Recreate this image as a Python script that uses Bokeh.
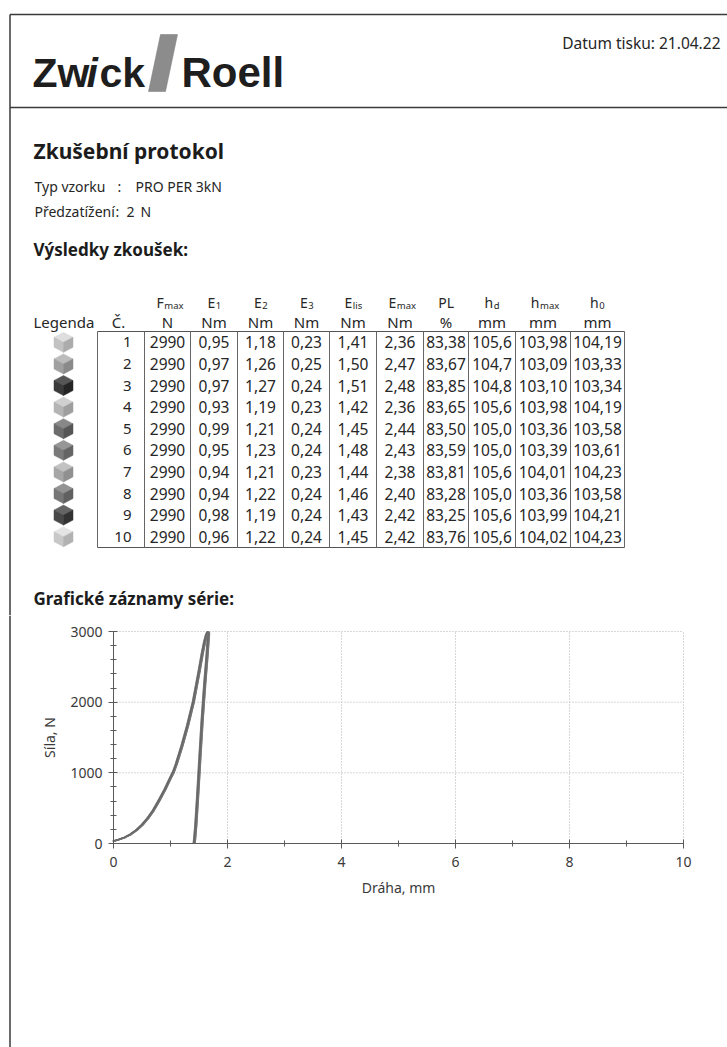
from bokeh.plotting import figure
from bokeh.layouts import column
from bokeh.models import Range1d, FixedTicker
from bokeh.core.properties import value
from bokeh.embed import file_html
from bokeh.resources import INLINE

# ---------------- data ----------------
specimen = [1, 2, 3, 4, 5, 6, 7, 8, 9, 10]
fmax = [2990, 2990, 2990, 2990, 2990, 2990, 2990, 2990, 2990, 2990]
e1 = [0.95, 0.97, 0.97, 0.93, 0.99, 0.95, 0.94, 0.94, 0.98, 0.96]
e2 = [1.18, 1.26, 1.27, 1.19, 1.21, 1.23, 1.21, 1.22, 1.19, 1.22]
e3 = [0.23, 0.25, 0.24, 0.23, 0.24, 0.24, 0.23, 0.24, 0.24, 0.24]
elis = [1.41, 1.50, 1.51, 1.42, 1.45, 1.48, 1.44, 1.46, 1.43, 1.45]
emax = [2.36, 2.47, 2.48, 2.36, 2.44, 2.43, 2.38, 2.40, 2.42, 2.42]
pl = [83.38, 83.67, 83.85, 83.65, 83.50, 83.59, 83.81, 83.28, 83.25, 83.76]
hd = [105.6, 104.7, 104.8, 105.6, 105.0, 105.0, 105.6, 105.0, 105.6, 105.6]
hmax = [103.98, 103.09, 103.10, 103.98, 103.36, 103.39, 104.01, 103.36, 103.99, 104.02]
h0 = [104.19, 103.33, 103.34, 104.19, 103.58, 103.61, 104.23, 103.58, 104.21, 104.23]

col_main = ["F", "E", "E", "E", "E", "E", "PL", "h", "h", "h"]
col_sub = ["max", "1", "2", "3", "lis", "max", "", "d", "max", "0"]
col_unit = ["N", "Nm", "Nm", "Nm", "Nm", "Nm", "%", "mm", "mm", "mm"]
col_decimals = [0, 2, 2, 2, 2, 2, 2, 1, 2, 2]

legend_gray = ["#c2c2c2", "#a0a0a0", "#3a3a3a", "#b4b4b4", "#6c6c6c",
               "#7a7a7a", "#a6a6a6", "#767676", "#484848", "#c8c8c8"]

# representative force-displacement path (mm, N)
load_disp = [0.00, 0.10, 0.20, 0.30, 0.40, 0.50, 0.60, 0.70, 0.80, 0.90, 1.00, 1.05,
             1.10, 1.20, 1.30, 1.40, 1.50, 1.56, 1.60, 1.63, 1.655]
load_force = [35, 58, 88, 130, 188, 262, 355, 470, 610, 760, 930, 1010,
              1120, 1380, 1670, 2000, 2430, 2700, 2860, 2950, 2995]
unload_disp = [1.655, 1.668, 1.665, 1.655, 1.64, 1.62, 1.60, 1.578, 1.556, 1.537, 1.518,
               1.50, 1.482, 1.463, 1.443, 1.425, 1.415]
unload_force = [2995, 2980, 2930, 2820, 2650, 2450, 2250, 2000, 1750, 1500, 1250,
                1000, 750, 500, 250, 80, 0]
# per-specimen spread of the band (mm)
spread = [0.000, -0.018, -0.009, 0.012, 0.018, -0.014, 0.004, 0.015, -0.004, 0.008]

x_ticks = [0, 2, 4, 6, 8, 10]
x_minor = [1, 3, 5, 7, 9]
y_ticks = [0, 1000, 2000, 3000]
y_minor = [200, 400, 600, 800, 1200, 1400, 1600, 1800, 2200, 2400, 2600, 2800]

FONT = "Noto Sans"
TXT = "#262626"
BORDER = "#3a3a3a"

# ---------------- header + table ----------------
W = 727
HA = 615
OX, OY = 0, 0   # page offset of this figure
pa = figure(width=W, height=HA, x_range=Range1d(0, W), y_range=Range1d(HA, 0),
            output_backend="svg", toolbar_location=None, min_border=0)
pa.axis.visible = False
pa.grid.visible = False
pa.outline_line_color = None


def X(px):
    return px - OX


def Y(py):
    return py - OY


pa.line([X(9.5), X(9.5)], [Y(14), HA], line_color=BORDER, line_width=1.5)
pa.line([X(9.5), W], [Y(14), Y(14)], line_color=BORDER, line_width=1.5)
pa.line([X(9.5), W], [Y(107), Y(107)], line_color=BORDER, line_width=1.5)

# logo
LOGO_Y = 72
pa.text(x=[X(32)], y=[Y(LOGO_Y)], text=["Zw"], text_font=value("Liberation Sans"),
        text_font_style="bold", text_font_size="41px", text_color="#1e1e1e",
        text_baseline="middle")
pa.text(x=[X(86)], y=[Y(LOGO_Y)], text=["i"], text_font=value("Liberation Sans"),
        text_font_style="bold italic", text_font_size="41px", text_color="#1e1e1e",
        text_baseline="middle")
pa.text(x=[X(99)], y=[Y(LOGO_Y)], text=["ck"], text_font=value("Liberation Sans"),
        text_font_style="bold", text_font_size="41px", text_color="#1e1e1e",
        text_baseline="middle")
pa.patch([X(160), X(177), X(165), X(148)], [Y(34), Y(34), Y(91), Y(91)],
         fill_color="#8c8c8c", line_color="#7a7a7a", line_width=0.5)
pa.text(x=[X(181)], y=[Y(LOGO_Y)], text=["Roell"], text_font=value("Liberation Sans"),
        text_font_style="bold", text_font_size="42px", text_color="#1e1e1e",
        text_baseline="middle")
pa.text(x=[X(720)], y=[Y(42)], text=["Datum tisku: 21.04.22"], text_font=value(FONT),
        text_font_size="15.5px", text_color=TXT, text_align="right", text_baseline="middle")

# titles
pa.text(x=[X(33)], y=[Y(150)], text=["Zkušební protokol"], text_font=value(FONT),
        text_font_style="bold", text_font_size="21px", text_color="#1c1c1c",
        text_baseline="middle")
pa.text(x=[X(34), X(117), X(135)], y=[Y(186)] * 3, text=["Typ vzorku", ":", "PRO PER 3kN"],
        text_font=value(FONT), text_font_size="14px", text_color=TXT, text_baseline="middle")
pa.text(x=[X(34), X(115), X(126), X(140)], y=[Y(211)] * 4, text=["Předzatížení", ":", "2", "N"],
        text_font=value(FONT), text_font_size="14px", text_color=TXT, text_baseline="middle")
pa.text(x=[X(33)], y=[Y(249)], text=["Výsledky zkoušek:"], text_font=value(FONT),
        text_font_style="bold", text_font_size="17px", text_color="#1c1c1c",
        text_baseline="middle")
pa.text(x=[X(33)], y=[Y(598)], text=["Grafické záznamy série:"], text_font=value(FONT),
        text_font_style="bold", text_font_size="17px", text_color="#1c1c1c",
        text_baseline="middle")

# table geometry
bounds = [97, 144, 190, 237, 283, 329, 376, 423, 468, 515, 570, 624]
t_top, row_h = 331, 21.6
n = len(specimen)
t_bot = t_top + row_h * n
pa.line([X(bounds[0]), X(bounds[-1])], [Y(t_top)] * 2, line_color="#555555", line_width=1)
pa.line([X(bounds[0]), X(bounds[-1])], [Y(t_bot)] * 2, line_color="#555555", line_width=1)
pa.multi_line([[X(b), X(b)] for b in bounds], [[Y(t_top), Y(t_bot)]] * len(bounds),
              line_color="#666666", line_width=1)

row_y = [Y(t_top + row_h * (i + 0.5)) for i in range(n)]
# header
pa.text(x=[X(33)], y=[Y(321)], text=["Legenda"], text_font=value(FONT),
        text_font_size="15px", text_color=TXT, text_baseline="middle")
pa.text(x=[X(118)], y=[Y(321)], text=["Č."], text_font=value(FONT),
        text_font_size="15px", text_color=TXT, text_baseline="middle", text_align="center")

char_w = {"F": 7.5, "E": 7.5, "PL": 16, "h": 8}
sub_w = {"max": 15, "1": 5, "2": 5, "3": 5, "lis": 9, "d": 5.5, "0": 5.5, "": 0}
centers = [(bounds[i + 1] + bounds[i + 2]) / 2 for i in range(len(col_main))]
split = [c + (char_w[m] - sub_w[s]) / 2 for c, m, s in zip(centers, col_main, col_sub)]
pa.text(x=[X(s) for s in split], y=[Y(302)] * len(split), text=col_main, text_font=value(FONT),
        text_font_size="14px", text_color=TXT, text_align="right", text_baseline="middle")
pa.text(x=[X(s) + 0.5 for s in split], y=[Y(305)] * len(split), text=col_sub, text_font=value(FONT),
        text_font_size="9.5px", text_color=TXT, text_align="left", text_baseline="middle")
pa.text(x=[X(c) for c in centers], y=[Y(321)] * len(centers), text=col_unit, text_font=value(FONT),
        text_font_size="15px", text_color=TXT, text_align="center", text_baseline="middle")

# numbers column
pa.text(x=[X(131)] * n, y=row_y, text=[str(s) for s in specimen], text_font=value(FONT),
        text_font_size="15px", text_color=TXT, text_align="right", text_baseline="middle")

columns = [fmax, e1, e2, e3, elis, emax, pl, hd, hmax, h0]
for ci, (vals, dec) in enumerate(zip(columns, col_decimals)):
    labels = [(f"{v:.{dec}f}").replace(".", ",") for v in vals]
    pa.text(x=[X(centers[ci])] * n, y=row_y, text=labels, text_font=value(FONT),
            text_font_size="15.5px", text_color=TXT, text_align="center", text_baseline="middle")


def shade(hexc, d):
    r, g, b = (int(hexc[i:i + 2], 16) for i in (1, 3, 5))
    f = lambda c: max(0, min(255, c + d))
    return "#%02x%02x%02x" % (f(r), f(g), f(b))


# legend cubes
cx = X(63)
hw, hh = 9.5, 10
top_xs, top_ys, lf_xs, lf_ys, rt_xs, rt_ys = [], [], [], [], [], []
top_c, lf_c, rt_c = [], [], []
for yc, col in zip(row_y, legend_gray):
    top_xs.append([cx, cx + hw, cx, cx - hw]); top_ys.append([yc - hh, yc - hh / 2, yc, yc - hh / 2])
    lf_xs.append([cx - hw, cx, cx, cx - hw]); lf_ys.append([yc - hh / 2, yc, yc + hh, yc + hh / 2])
    rt_xs.append([cx, cx + hw, cx + hw, cx]); rt_ys.append([yc, yc - hh / 2, yc + hh / 2, yc + hh])
    top_c.append(shade(col, 28)); lf_c.append(col); rt_c.append(shade(col, -22))
pa.patches(top_xs, top_ys, fill_color=top_c, line_color=top_c, line_width=0.5)
pa.patches(lf_xs, lf_ys, fill_color=lf_c, line_color=lf_c, line_width=0.5)
pa.patches(rt_xs, rt_ys, fill_color=rt_c, line_color=rt_c, line_width=0.5)

# ---------------- chart ----------------
# frame covers the whole lower part of the page; axes are pinned at x=0 / y=0
HB = 1047 - HA                  # page y 615 .. 1047
page_top_b = OY + HA
x0_page, x10_page = 113, 683
y3000_page, y0_page = 631, 843
ppx = (x10_page - x0_page) / 10.0          # px per mm
ppy = (y0_page - y3000_page) / 3000.0      # px per N
right_pad = (OX + W) - x10_page
xr = Range1d(-(x0_page - OX) / ppx, 10 + right_pad / ppx)
yr = Range1d(-((page_top_b + HB) - y0_page) / ppy, 3000 + (y3000_page - page_top_b) / ppy)

pb = figure(width=W, height=HB, x_range=xr, y_range=yr,
            output_backend="svg", toolbar_location=None, min_border=0)
pb.outline_line_color = None
pb.grid.visible = False
pb.xaxis.fixed_location = 0
pb.yaxis.fixed_location = 0
pb.xaxis.bounds = (0, 10)
pb.yaxis.bounds = (0, 3000)
pb.xaxis.ticker = FixedTicker(ticks=x_ticks, minor_ticks=x_minor)
pb.yaxis.ticker = FixedTicker(ticks=y_ticks, minor_ticks=y_minor)

# dotted grid limited to the plot area
pb.segment(x0=x_ticks[1:], y0=[y_ticks[0]] * 5, x1=x_ticks[1:], y1=[y_ticks[-1]] * 5,
           line_color="#b0b0b0", line_dash="1 2", line_width=1)
pb.segment(x0=[x_ticks[0]] * 3, y0=y_ticks[1:], x1=[x_ticks[-1]] * 3, y1=y_ticks[1:],
           line_color="#b0b0b0", line_dash="1 2", line_width=1)

for ax in (pb.xaxis, pb.yaxis):
    ax.axis_line_color = "#5a5a5a"
    ax.major_tick_line_color = "#5a5a5a"
    ax.minor_tick_line_color = "#5a5a5a"
    ax.major_tick_in = 4
    ax.major_tick_out = 5
    ax.minor_tick_in = 3
    ax.minor_tick_out = 3
    ax.major_label_text_font = FONT
    ax.major_label_text_font_size = "14px"
    ax.major_label_text_color = "#3a3a3a"
    ax.axis_label_text_font = FONT
    ax.axis_label_text_font_size = "14px"
    ax.axis_label_text_color = "#3a3a3a"
    ax.axis_label_text_font_style = "normal"
pb.yaxis.major_label_standoff = 6
pb.xaxis.major_label_standoff = 8
pb.yaxis.axis_label = "Síla, N"
pb.xaxis.axis_label = "Dráha, mm"
pb.yaxis.axis_label_standoff = 8
pb.xaxis.axis_label_standoff = 8

# page border continues down the left edge
bx = xr.start + (9.5 - OX) / ppx
pb.line([bx, bx], [yr.start, yr.end], line_color=BORDER, line_width=1.5)

curve_cols = ["#6a6a6a", "#7a7a7a", "#626262", "#808080", "#686868",
              "#747474", "#666666", "#7c7c7c", "#606060", "#707070"]
for s, col in zip(spread, curve_cols):
    xs = [d + s for d in load_disp] + [d + s for d in unload_disp]
    ys = load_force + unload_force
    pb.line(xs, ys, line_color=col, line_width=1.3, line_alpha=0.75)

layout = column(pa, pb)
open("out.html", "w").write(file_html(layout, INLINE))
